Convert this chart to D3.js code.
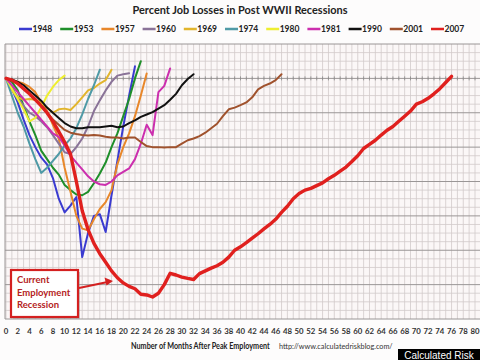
<!DOCTYPE html>
<html><head><meta charset="utf-8">
<script src="https://cdn.jsdelivr.net/npm/d3@7"></script>
<style>body{margin:0;background:#fdfcfc;}svg{display:block;}</style>
</head><body>
<script>
const years = ["1948","1953","1957","1960","1969","1974","1980","1981","1990","2001","2007"];
const colors = ["#3a3ad0","#1f8f2a","#e8872a","#8a7398","#e2b52c","#4f9aa6","#eeee30","#cc2fae","#111111","#a0522d","#e0201e"];
const s1948 = [0,-0.3,-0.7,-1.2,-1.65,-2.0,-2.3,-2.5,-2.9,-3.5,-3.9,-3.7,-3.45,-5.2,-4.5,-4.0,-3.95,-4.47,-3.4,-2.4,-1.4,-0.5,0.35];
const s1953 = [0,-0.1,-0.35,-0.8,-1.25,-1.65,-2.1,-2.35,-2.6,-2.8,-3.1,-3.25,-3.38,-3.4,-3.3,-3.05,-2.77,-2.45,-2.0,-1.6,-1.1,-0.6,0.0,0.5];
const s1957 = [0,-0.05,-0.1,-0.15,-0.25,-0.4,-0.7,-0.95,-1.35,-1.75,-2.6,-3.3,-4.0,-4.37,-4.42,-4.1,-3.8,-3.6,-3.25,-2.5,-2.0,-1.6,-1.1,-0.5,0.14];
const s1960 = [0,-0.25,-0.55,-0.8,-1.0,-1.1,-1.25,-1.42,-1.65,-1.9,-2.15,-2.2,-2.0,-1.75,-1.4,-0.95,-0.64,-0.35,-0.1,0.08,0.12,0.15];
const s1969 = [0,-0.35,-0.55,-0.62,-0.6,-0.62,-0.72,-0.85,-1.0,-0.9,-0.88,-0.92,-0.75,-0.55,-0.35,-0.28,-0.15,-0.05,0.25];
const s1974 = [0,-0.5,-1.0,-1.4,-1.9,-2.35,-2.75,-2.6,-2.4,-2.2,-1.95,-1.75,-1.45,-1.05,-0.6,-0.2,0.25];
const s1980 = [0,-0.3,-0.6,-0.9,-1.25,-1.15,-0.85,-0.5,-0.25,-0.05,0.08];
const s1981 = [0,-0.2,-0.4,-0.6,-0.8,-1.0,-1.2,-1.4,-1.6,-1.7,-1.95,-2.25,-2.45,-2.65,-2.85,-3.0,-3.08,-3.1,-3.0,-2.82,-2.72,-2.62,-2.35,-1.9,-1.35,-1.65,-0.4,-0.22,0.29];
const s1990 = [0,-0.03,-0.1,-0.2,-0.35,-0.5,-0.65,-0.85,-1.0,-1.15,-1.3,-1.4,-1.45,-1.45,-1.42,-1.42,-1.42,-1.4,-1.38,-1.42,-1.4,-1.3,-1.22,-1.12,-1.05,-0.98,-0.88,-0.78,-0.62,-0.45,-0.2,-0.02,0.12];
const s2001 = [0,-0.05,-0.15,-0.3,-0.45,-0.6,-0.8,-1.0,-1.2,-1.35,-1.5,-1.58,-1.62,-1.65,-1.66,-1.65,-1.66,-1.7,-1.72,-1.72,-1.75,-1.72,-1.72,-1.85,-1.97,-2.0,-2.0,-2.01,-2.0,-2.0,-1.9,-1.8,-1.75,-1.68,-1.58,-1.45,-1.32,-1.1,-0.9,-0.85,-0.78,-0.7,-0.55,-0.32,-0.22,-0.15,-0.05,0.12];
const s2007 = [0,-0.05,-0.15,-0.3,-0.45,-0.62,-0.8,-1.0,-1.25,-1.55,-1.85,-2.2,-3.0,-3.85,-4.4,-4.8,-5.1,-5.35,-5.6,-5.8,-5.95,-6.05,-6.12,-6.28,-6.3,-6.36,-6.25,-6.0,-5.67,-5.72,-5.78,-5.82,-5.85,-5.68,-5.6,-5.52,-5.45,-5.35,-5.2,-5.0,-4.9,-4.78,-4.65,-4.52,-4.38,-4.25,-4.1,-3.9,-3.72,-3.5,-3.35,-3.25,-3.2,-3.12,-3.04,-2.92,-2.82,-2.7,-2.58,-2.42,-2.25,-2.04,-1.92,-1.8,-1.65,-1.51,-1.4,-1.25,-1.1,-0.95,-0.75,-0.68,-0.58,-0.45,-0.3,-0.12,0.06];
const series = [s1948,s1953,s1957,s1960,s1969,s1974,s1980,s1981,s1990,s2001,s2007];
const xTicks = d3.range(0, 81, 2);
const annotationLines = ["Current","Employment","Recession"];

const W = 480, H = 360;
const svg = d3.select("body").append("svg").attr("width", W).attr("height", H);
const x = d3.scaleLinear().domain([0, 80]).range([6, 475]);
const y = d3.scaleLinear().domain([-7, 1]).range([319, 44]);

svg.append("rect").attr("x", 5).attr("y", 44).attr("width", W - 5).attr("height", 275).attr("fill", "#fbf7f7");

const g = svg.append("g");
g.selectAll("line.vx").data(d3.range(0, 82)).join("line")
  .attr("x1", d => x(d)).attr("x2", d => x(d)).attr("y1", 44).attr("y2", 319)
  .attr("stroke", "#d2caca").attr("stroke-width", 0.8);
g.selectAll("line.hy").data(d3.range(-7, 1.01, 0.25)).join("line")
  .attr("x1", 5).attr("x2", W).attr("y1", d => y(d)).attr("y2", d => y(d))
  .attr("stroke", d => Math.abs(d - Math.round(d)) < 1e-6 ? "#9a9696" : "#d2caca")
  .attr("stroke-width", d => Math.abs(d - Math.round(d)) < 1e-6 ? 1 : 0.8);
g.selectAll("line.tk").data(d3.range(0, 82)).join("line")
  .attr("x1", d => x(d)).attr("x2", d => x(d)).attr("y1", y(0) - 2).attr("y2", y(0) + 2)
  .attr("stroke", "#888").attr("stroke-width", 0.8);
svg.append("line").attr("x1", 5).attr("x2", 5).attr("y1", 44).attr("y2", 319).attr("stroke", "#9a9696");

const line = d3.line().x((d, i) => x(i)).y(d => y(d));
series.forEach((s, i) => {
  svg.append("path").attr("d", line(s)).attr("fill", "none")
    .attr("stroke", colors[i]).attr("stroke-width", i === 10 ? 3.4 : 2)
    .attr("stroke-linejoin", "round").attr("stroke-linecap", "round");
});

svg.append("g").selectAll("text").data(xTicks).join("text")
  .attr("x", d => x(d)).attr("y", 334).attr("text-anchor", "middle")
  .attr("font-family", "Lato, 'Open Sans', sans-serif").attr("font-weight", "bold")
  .attr("font-size", 7.8).attr("fill", "#333").text(d => d);

svg.append("text").attr("x", 240).attr("y", 14).attr("text-anchor", "middle")
  .attr("font-family", "Lato, 'Open Sans', sans-serif").attr("font-weight", "bold")
  .attr("font-size", 11.5).attr("fill", "#222")
  .attr("textLength", 215).attr("lengthAdjust", "spacingAndGlyphs")
  .text("Percent Job Losses in Post WWII Recessions");

const leg = svg.append("g");
years.forEach((yr, i) => {
  const lx = 19 + i * 41.2;
  leg.append("line").attr("x1", lx).attr("x2", lx + 13).attr("y1", 29).attr("y2", 29)
    .attr("stroke", colors[i]).attr("stroke-width", 2.5);
  leg.append("text").attr("x", lx + 13.5).attr("y", 32).attr("font-family", "Lato, 'Open Sans', sans-serif")
    .attr("font-weight", "bold").attr("font-size", 8.5).attr("fill", "#222").text(yr);
});

// fit text horizontally to a target width via scale transform
function fitText(sel, x0, y0, target) {
  const w = sel.node().getComputedTextLength();
  const k = target / w;
  sel.attr("x", 0).attr("y", 0).attr("transform", `translate(${x0},${y0}) scale(${k},1)`);
}
const axT = svg.append("text")
  .attr("font-family", "Lato, 'Open Sans', sans-serif").attr("font-weight", "bold")
  .attr("font-size", 9).attr("fill", "#222")
  .text("Number of Months After Peak Employment");
fitText(axT, 131, 349, 139);
const urlT = svg.append("text")
  .attr("font-family", "Lato, 'Open Sans', sans-serif")
  .attr("font-size", 6.8).attr("fill", "#333")
  .text("http://www.calculatedriskblog.com/");
fitText(urlT, 279, 348.5, 114);

svg.append("rect").attr("x", 13).attr("y", 272).attr("width", 67).attr("height", 47).attr("fill", "#999").attr("opacity", 0.5);
svg.append("rect").attr("x", 11).attr("y", 270).attr("width", 67).attr("height", 47)
  .attr("fill", "#fff").attr("stroke", "#d42020").attr("stroke-width", 2.2);
annotationLines.forEach((t, i) => {
  svg.append("text").attr("x", 17).attr("y", 283 + i * 12.5)
    .attr("font-family", "Lato, 'Open Sans', sans-serif").attr("font-weight", "bold")
    .attr("font-size", 9.5).attr("fill", "#b42222").text(t);
});
svg.append("line").attr("x1", 79).attr("y1", 288).attr("x2", 110).attr("y2", 281.5)
  .attr("stroke", "#d42020").attr("stroke-width", 2);
svg.append("path").attr("d", "M113,281 L104.5,277.5 L106.5,285.5 Z").attr("fill", "#d42020");

svg.append("rect").attr("x", 398).attr("y", 349).attr("width", 82).attr("height", 11).attr("fill", "#000");
svg.append("text").attr("x", 439).attr("y", 358.5).attr("text-anchor", "middle")
  .attr("font-family", "'Liberation Sans', Arial, sans-serif").attr("font-size", 10).attr("fill", "#fff")
  .text("Calculated Risk");
</script>
</body></html>
